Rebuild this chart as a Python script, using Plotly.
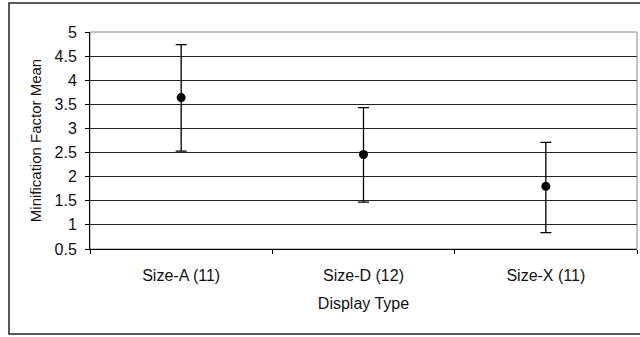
import plotly.graph_objects as go

categories = ["Size-A (11)", "Size-D (12)", "Size-X (11)"]
means = [3.64, 2.46, 1.80]
err_plus = [1.10, 0.97, 0.91]
err_minus = [1.11, 0.99, 0.96]
y_ticks = [0.5, 1, 1.5, 2, 2.5, 3, 3.5, 4, 4.5, 5]

FONT = "Liberation Sans, Arial, sans-serif"

L, R, T, B = 90, 3, 32, 88
PW, PH = 640 - L - R, 337 - T - B

fig = go.Figure()
fig.add_trace(go.Scatter(
    x=categories, y=means, mode="markers",
    marker=dict(color="black", size=9),
    error_y=dict(type="data", symmetric=False, array=err_plus, arrayminus=err_minus,
                 color="black", thickness=1.3, width=5.5),
    showlegend=False, cliponaxis=False,
))

# plot-area border (gray) and outer chart border (black)
fig.add_shape(type="rect", xref="paper", yref="paper", x0=0, y0=0, x1=1, y1=1,
              line=dict(color="#888888", width=1), layer="below")
fig.add_shape(type="rect", xref="paper", yref="paper",
              x0=(9 - L) / PW, y0=-(334 - (337 - B)) / PH,
              x1=(660 - L) / PW, y1=1 + (T - 3) / PH,
              line=dict(color="#222222", width=1.5), layer="below")

fig.update_layout(
    width=640, height=337,
    margin=dict(l=L, r=R, t=T, b=B, autoexpand=False),
    paper_bgcolor="white", plot_bgcolor="white",
    font=dict(family=FONT, size=15, color="#111111"),
    xaxis=dict(
        type="category", showgrid=False, showline=True, linecolor="black", linewidth=1,
        ticks="outside", ticklen=4, tickcolor="black", tickson="boundaries",
        ticklabelstandoff=12, tickfont=dict(family=FONT, size=16),
        title=dict(text="Display Type", standoff=14, font=dict(family=FONT, size=16)),
        range=[-0.5, 2.5], automargin=False,
    ),
    yaxis=dict(
        range=[0.5, 5], tickvals=y_ticks, ticktext=[f"{v:g}" for v in y_ticks],
        showgrid=True, gridcolor="#222222", gridwidth=1,
        showline=True, linecolor="black", linewidth=1,
        ticks="outside", ticklen=4, tickcolor="black", zeroline=False,
        ticklabelstandoff=5, tickfont=dict(family=FONT, size=16),
        title=dict(text="Minification Factor Mean", standoff=9, font=dict(family=FONT, size=15)),
        automargin=False,
    ),
)

fig.write_html("out.html", config={"displayModeBar": False},
               post_script="document.body.style.margin='0';document.body.style.overflow='hidden';")
